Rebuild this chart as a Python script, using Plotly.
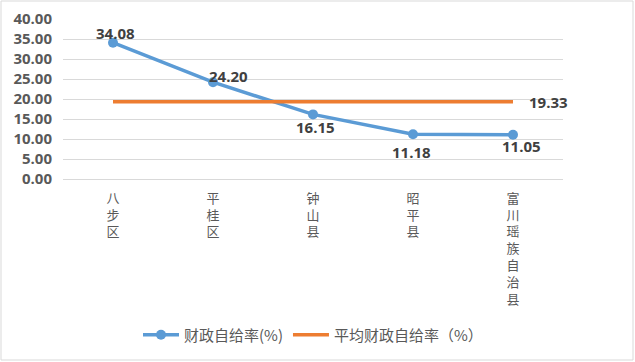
import plotly.graph_objects as go

categories = ["八步区", "平桂区", "钟山县", "昭平县", "富川瑶族自治县"]
rate = [34.08, 24.20, 16.15, 11.18, 11.05]
avg_rate = [19.33, 19.33, 19.33, 19.33, 19.33]
series_names = ["财政自给率(%)", "平均财政自给率（%）"]
y_ticks = [0, 5, 10, 15, 20, 25, 30, 35, 40]

# label offsets in pixels (styling only)
label_dx = [2, 15, 2, -2, 8]
label_dy = [10, 6, -13, -18, -11]

cat_labels = ["<br>".join(list(c)) for c in categories]

W, H = 635, 362
L, R, T, B = 63, 72, 19, 183
NUM_FONT = "Open Sans"

fig = go.Figure()
fig.add_trace(go.Scatter(
    x=cat_labels, y=rate, mode="lines+markers", name=series_names[0],
    line=dict(color="#5B9BD5", width=3.5), marker=dict(size=10, color="#5B9BD5"),
))
fig.add_trace(go.Scatter(
    x=cat_labels, y=avg_rate, mode="lines", name=series_names[1],
    line=dict(color="#ED7D31", width=3.5),
))
for c, v, dx, dy in zip(cat_labels, rate, label_dx, label_dy):
    fig.add_annotation(
        x=c, y=v, xref="x", yref="y", text=f"{v:.2f}", showarrow=False,
        xanchor="center", yanchor="middle", xshift=dx, yshift=dy,
        font=dict(family=NUM_FONT, size=15, color="#404040", weight="bold"),
    )
fig.add_annotation(
    x=cat_labels[-1], y=avg_rate[-1], xref="x", yref="y", text=f"{avg_rate[-1]:.2f}",
    showarrow=False, xanchor="left", yanchor="middle", xshift=14,
    font=dict(family=NUM_FONT, size=15, color="#404040", weight="bold"),
)

pw = W - L - R
ph = H - T - B
fig.add_shape(type="rect", xref="paper", yref="paper",
              x0=(1 - L) / pw, x1=(633 - L) / pw,
              y0=(H - B - 360) / ph, y1=(H - B - 1) / ph,
              line=dict(color="#D9D9D9", width=1), layer="below")

fig.update_layout(
    template="none",
    width=W, height=H, margin=dict(l=L, r=R, t=T, b=B, autoexpand=False),
    paper_bgcolor="white", plot_bgcolor="white",
    showlegend=True,
    legend=dict(orientation="h", x=0.5, xanchor="center", y=(H - B - 335) / ph, yanchor="middle",
                font=dict(family="Noto Sans CJK SC", size=15, color="#595959"),
                itemwidth=36, tracegroupgap=0),
    xaxis=dict(type="category", range=[-0.5, 4.5], showgrid=False, showline=True,
               linecolor="#D9D9D9", linewidth=1, ticks="", automargin=False,
               ticklabelstandoff=7,
               tickfont=dict(family="Noto Sans CJK SC", size=13, color="#595959")),
    yaxis=dict(range=[0, 40], tickvals=y_ticks, tickformat=".2f", showgrid=True,
               gridcolor="#D9D9D9", gridwidth=1, zeroline=False, showline=False, ticks="",
               ticklabelstandoff=10, automargin=False,
               tickfont=dict(family=NUM_FONT, size=15, color="#595959", weight="bold")),
)

fig.write_html("out.html", post_script="document.body.style.margin='0';",
               config={"displayModeBar": False})
